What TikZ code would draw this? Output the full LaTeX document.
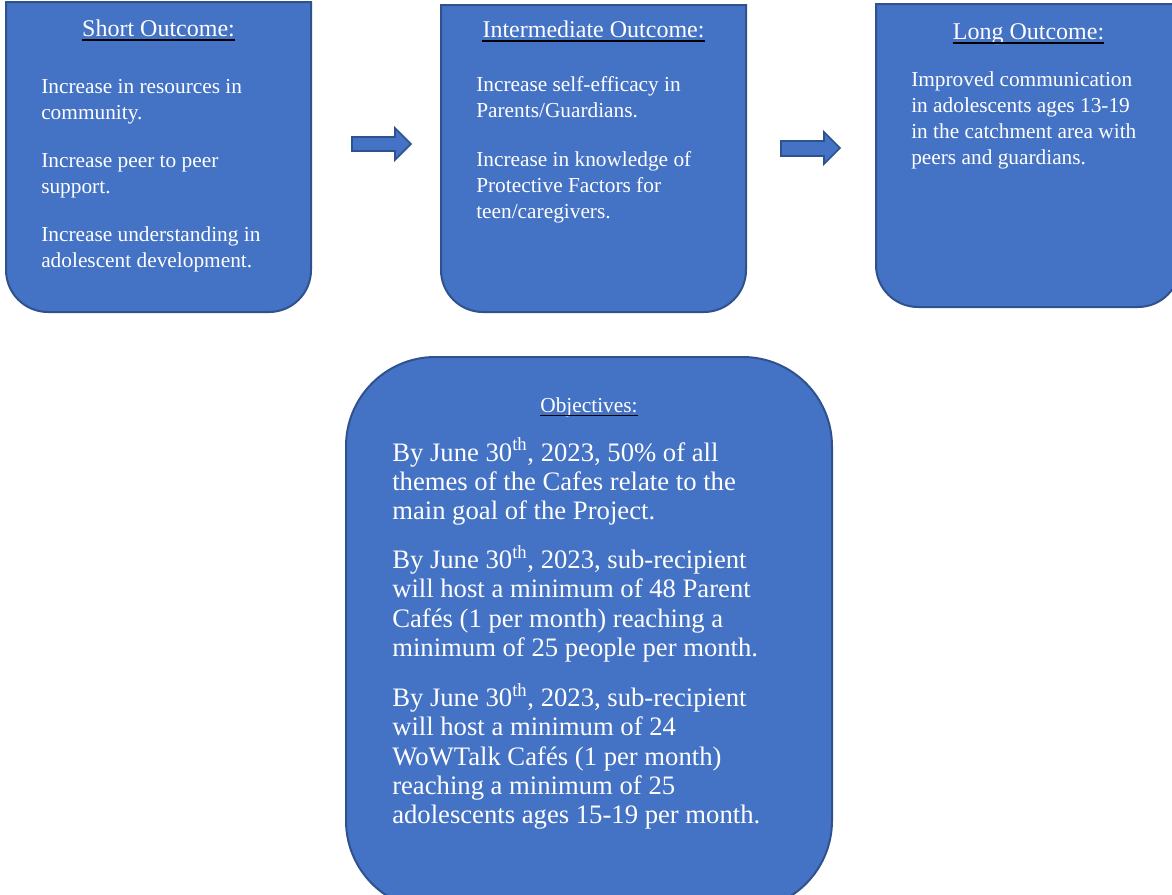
\documentclass[tikz,border=0pt]{standalone}
\usepackage{fontspec}
\setmainfont{Liberation Serif}
\definecolor{boxfill}{HTML}{4472C4}
\definecolor{boxline}{HTML}{2F528F}
\begin{document}
\begin{tikzpicture}[x=0.75pt,y=-0.75pt,
  panel/.style={fill=boxfill,draw=boxline,line width=1.5pt},
  blockarrow/.style={fill=boxfill,draw=boxline,line width=1.2pt},
  ttl/.style={text=white,font=\fontsize{18}{21}\selectfont,inner sep=0pt,anchor=base},
  objttl/.style={text=white,font=\fontsize{16}{19}\selectfont,inner sep=0pt,anchor=base},
  bodytxt/.style={text=white,font=\fontsize{16}{19.5}\selectfont,inner sep=0pt,anchor=base west,align=left,text width=250pt,
    execute at begin node={\spaceskip=0pt\xspaceskip=0pt\relax}},
  objtxt/.style={text=white,font=\fontsize{20}{22}\selectfont,inner sep=0pt,anchor=base west,align=left,text width=330pt,
    execute at begin node={\spaceskip=0pt\xspaceskip=0pt\relax}},
  uline/.style={draw=black,line width=1.1pt}]
\useasboundingbox (0,0) rectangle (1172,894);
\clip (0,0) rectangle (1172,894);
\fill[white] (0,0) rectangle (1172,894);

% boxes
\draw[panel] (6,2) -- (311,2) -- (311,270) arc[start angle=0,end angle=90,radius=42]
  -- (48,312) arc[start angle=90,end angle=180,radius=42] -- cycle;
\draw[panel] (441,5) -- (746,5) -- (746,270) arc[start angle=0,end angle=90,radius=42]
  -- (483,312) arc[start angle=90,end angle=180,radius=42] -- cycle;
\draw[panel] (876,4) -- (1180,4) -- (1180,265) arc[start angle=0,end angle=90,radius=42]
  -- (918,307) arc[start angle=90,end angle=180,radius=42] -- cycle;
\draw[panel,rounded corners=67pt] (346,357) rectangle (832,910);

% block arrows
\draw[blockarrow] (352,137) -- (395,137) -- (395,128) -- (411,144) -- (395,160) -- (395,151) -- (352,151) -- cycle;
\draw[blockarrow] (781,141) -- (824,141) -- (824,132) -- (840,148) -- (824,164) -- (824,156) -- (781,156) -- cycle;

% titles
\node[ttl] (t1) at (158.5,36) {Short Outcome:};
\node[ttl] (t2) at (593.5,37) {Intermediate Outcome:};
\node[ttl] (t3) at (1028.5,39) {Long Outcome:};
\node[objttl] (t4) at (589,412) {Objectives:};
\foreach \t in {t1,t2,t3}
  \draw[uline] ([yshift=-3pt]\t.base west) -- ([yshift=-3pt]\t.base east);
\draw[uline] ([yshift=-2.5pt]t4.base west) -- ([yshift=-2.5pt]t4.base east);

% bodies
\node[bodytxt] (b1) at (41,93) {Increase in resources in\\community.\\[16.5pt]Increase peer to peer\\support.\\[16.5pt]Increase understanding in\\adolescent development.};
\node[bodytxt] (b2) at (476,91) {Increase self-efficacy in\\Parents/Guardians.\\[17.5pt]Increase in knowledge of\\Protective Factors for\\teen/caregivers.};
\node[bodytxt] (b3) at (911,86) {Improved communication\\in adolescents ages 13-19\\in the catchment area with\\peers and guardians.};
\node[objtxt] (b4) at (392,461) {By June 30\textsuperscript{th}, 2023, 50\% of all\\themes of the Cafes relate to the\\main goal of the Project.\\[14.5pt]By June 30\textsuperscript{th}, 2023, sub-recipient\\will host a minimum of 48 Parent\\Cafés (1 per month) reaching a\\minimum of 25 people per month.\\[15.5pt]By June 30\textsuperscript{th}, 2023, sub-recipient\\will host a minimum of 24\\WoWTalk Cafés (1 per month)\\reaching a minimum of 25\\adolescents ages 15-19 per month.};
\end{tikzpicture}
\end{document}
